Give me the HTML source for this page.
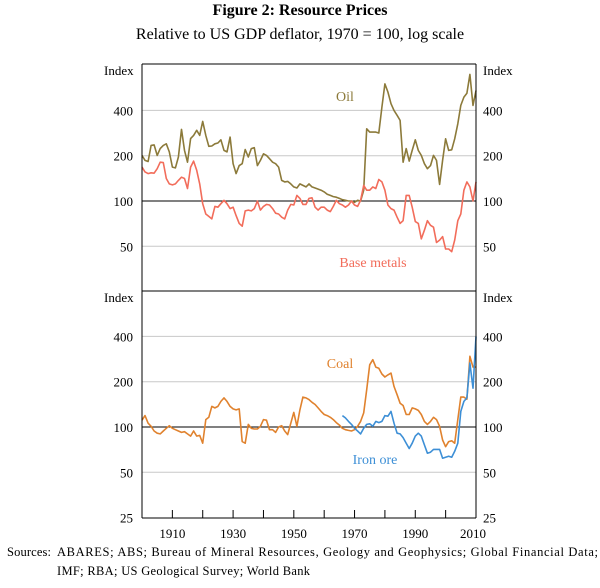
<!DOCTYPE html>
<html><head><meta charset="utf-8"><style>
body{margin:0;background:#fff;}
svg text{font-family:"Liberation Serif",serif;}
</style></head><body>
<svg id="chart" width="600" height="583" viewBox="0 0 600 583" xmlns="http://www.w3.org/2000/svg">
<text x="300" y="15" text-anchor="middle" font-size="16" font-weight="bold">Figure 2: Resource Prices</text>
<text x="300" y="39" text-anchor="middle" font-size="16">Relative to US GDP deflator, 1970 = 100, log scale</text>
<g id="grid"></g>
<g id="series"></g>
<g id="axes"></g>
<text x="345" y="101" text-anchor="middle" font-size="14" fill="#8c7a3a">Oil</text>
<text x="373" y="267" text-anchor="middle" font-size="14" fill="#f26d5b">Base metals</text>
<text x="340" y="368" text-anchor="middle" font-size="14" fill="#e0822e">Coal</text>
<text x="375" y="464" text-anchor="middle" font-size="14" fill="#3d8fd6">Iron ore</text>
<text x="7" y="556" font-size="12.5" textLength="44" lengthAdjust="spacing">Sources:</text>
<text x="57" y="556" font-size="12.5" textLength="541" lengthAdjust="spacing">ABARES; ABS; Bureau of Mineral Resources, Geology and Geophysics; Global Financial Data;</text>
<text x="57" y="575" font-size="12.5" textLength="253" lengthAdjust="spacing">IMF; RBA; US Geological Survey; World Bank</text>
</svg>
<script>
const oilYears0 = 1900;
const oil = [201,186,183,234,236,201,223,234,240,212,168,166,196,299,217,181,260,273,295,273,338,273,231,232,240,243,255,217,212,266,177,152,172,177,220,196,223,226,172,186,206,201,191,181,177,168,137,134,135,130,124,122,130,127,124,130,124,122,120,118,115,111,109,107,106,104,102,101,100,100,98,101,100,118,302,287,287,287,283,420,600,530,443,400,371,343,181,223,184,217,255,217,201,177,164,172,201,186,129,186,259,217,219,259,326,432,490,520,694,432,542];
const baseMetals = [168,156,152,154,153,164,181,180,141,130,128,130,137,144,141,121,168,184,160,130,96,82,79,76,92,91,96,101,96,89,91,80,71,68,86,87,86,89,100,87,92,95,94,89,83,82,78,76,87,95,94,109,104,95,95,104,105,91,87,91,91,87,85,92,101,96,94,91,94,100,94,92,101,127,118,118,124,121,139,134,118,94,89,87,78,71,74,109,109,91,73,71,56,64,74,69,67,53,55,58,48,48,46,55,74,82,118,134,124,100,134];
const coal = [111,119,106,101,94,91,90,94,98,102,98,96,94,92,93,90,87,94,87,88,78,112,116,137,134,137,148,156,148,137,132,130,132,80,78,104,98,97,97,101,112,111,96,96,92,100,102,94,89,106,125,101,130,158,156,152,146,141,134,127,121,119,116,112,107,103,98,96,95,94,96,101,109,124,177,259,280,250,246,225,215,222,228,186,164,144,139,121,121,134,132,129,121,109,104,109,116,112,101,82,74,80,81,78,112,158,158,153,295,250,250];
const ironStart = 1966;
const ironOre = [119,115,109,104,98,94,90,98,104,105,101,109,107,109,119,118,127,106,91,90,85,78,72,78,87,91,87,76,67,68,71,71,71,62,63,64,63,69,78,127,148,156,266,181,400];
const yTicks = [25,50,100,200,400];
const xTickYears = [1910,1930,1950,1970,1990,2010];

const NS="http://www.w3.org/2000/svg";
const X0=142,X1=476, Y0=1900, Y1=2010;
const xs = y => X0+(y-Y0)*(X1-X0)/(Y1-Y0);
const PPD=45.3;
const panels=[{ref:201,top:64,bot:291},{ref:427,top:291,bot:518}];
const ys=(p,v)=>panels[p].ref-Math.log2(v/100)*PPD;
function mk(tag,attrs,parent){const e=document.createElementNS(NS,tag);for(const k in attrs)e.setAttribute(k,attrs[k]);parent.appendChild(e);return e;}
const grid=document.getElementById('grid'),axes=document.getElementById('axes'),ser=document.getElementById('series');
panels.forEach((p,pi)=>{
  yTicks.forEach(t=>{
    const y=ys(pi,t);
    if(y<p.top+2||y>p.bot-2){ if(!(pi===1&&t===25))return; }
    if(!(pi===1&&t===25)){
      const l=mk('line',{x1:X0,x2:X1,y1:y,y2:y,stroke:t===100?'#000':'#c8c8c8','stroke-width':1},grid);
      
      
    }
    const a=mk('text',{x:133,y:y+5,'text-anchor':'end','font-size':13},axes);a.textContent=t;
    
    
    const b=mk('text',{x:483,y:y+5,'font-size':13},axes);b.textContent=t;
    
    
  });
  const i1=mk('text',{x:104,y:p.top+11,'font-size':13},axes);i1.textContent='Index';
  
  
  const i2=mk('text',{x:483,y:p.top+11,'font-size':13},axes);i2.textContent='Index';
  
  
});
[[X0,64,X0,518],[X1,64,X1,518],[X0,64,X1,64],[X0,518,X1,518],[X0,291,X1,291]].forEach(c=>{
  const l=mk('line',{x1:c[0],y1:c[1],x2:c[2],y2:c[3],stroke:'#000','stroke-width':1},axes);
  
  
});
for(let yr=1910;yr<2010;yr+=10){
  const l=mk('line',{x1:xs(yr),x2:xs(yr),y1:518,y2:510,stroke:'#000'},axes);
  
  
}
xTickYears.forEach(yr=>{
  const t=mk('text',{x:xs(yr)-(yr===2010?3:0),y:538,'text-anchor':'middle','font-size':13},axes);t.textContent=yr;
  
  
});
function line(arr,start,p,color,name){
  const pts=arr.map((v,i)=>xs(start+i).toFixed(1)+','+ys(p,v).toFixed(1)).join(' ');
  const e=mk('polyline',{points:pts,fill:'none',stroke:color,'stroke-width':1.6,'stroke-linejoin':'round'},ser);
  
  
}
line(oil,oilYears0,0,'#8c7a3a','oil-line');
line(baseMetals,oilYears0,0,'#f26d5b','base-metals-line');
line(coal,oilYears0,1,'#e0822e','coal-line');
line(ironOre,ironStart,1,'#3d8fd6','iron-ore-line');
</script>
</body></html>
